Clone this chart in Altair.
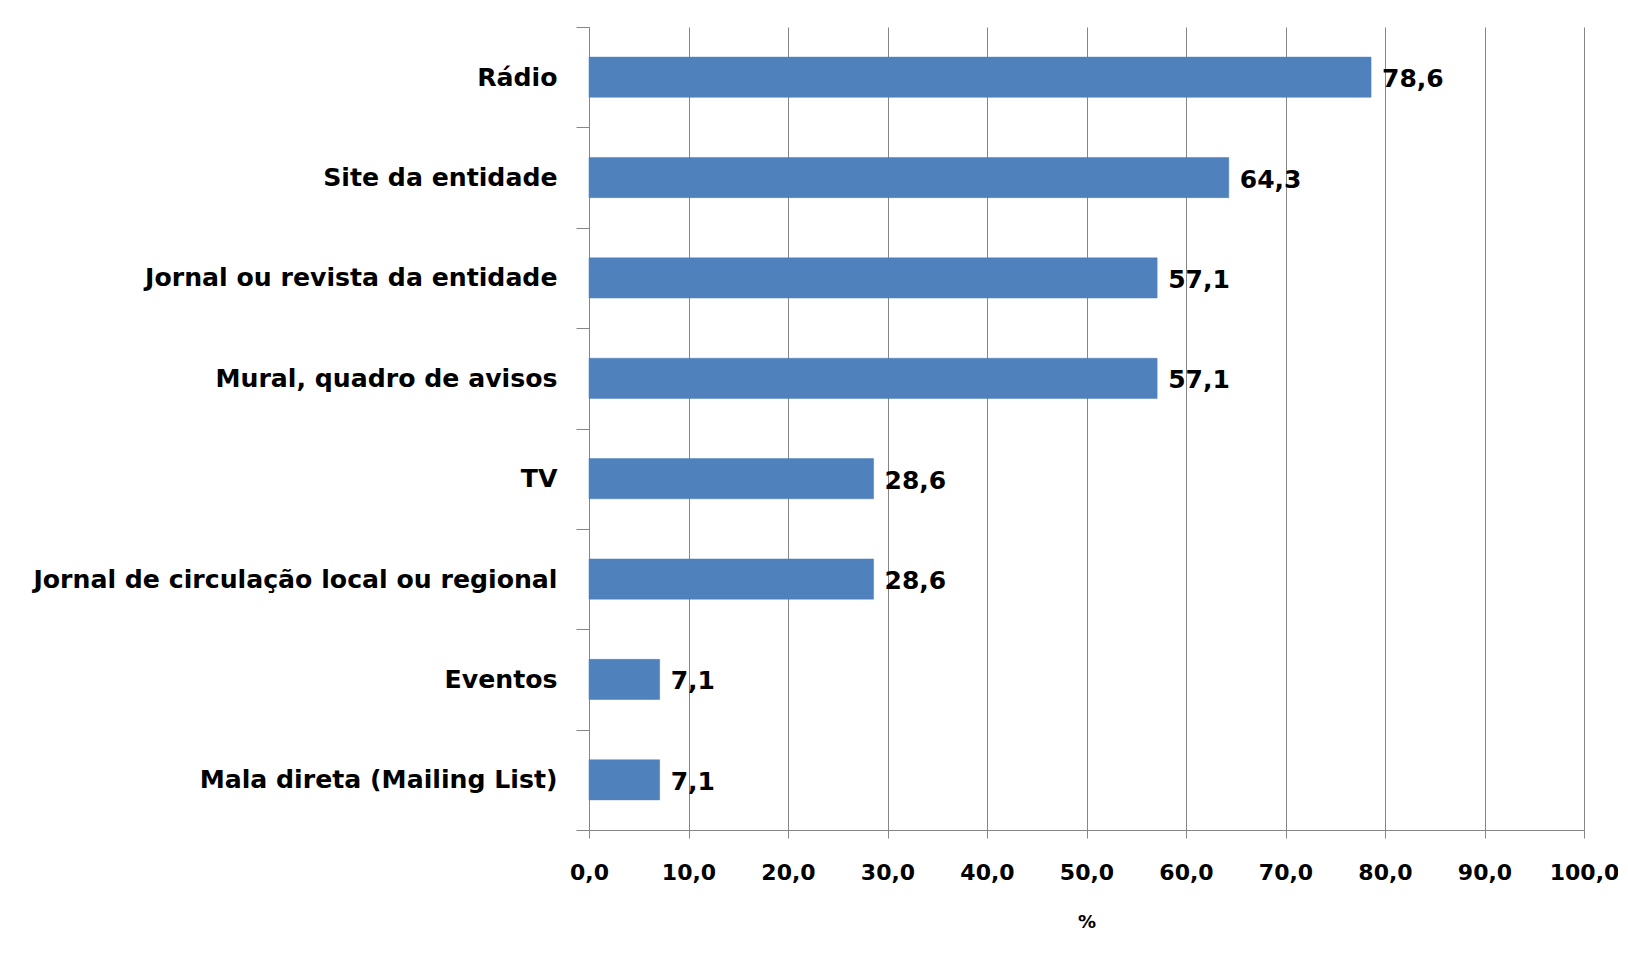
import altair as alt
import pandas as pd

categories = [
    "Rádio",
    "Site da entidade",
    "Jornal ou revista da entidade",
    "Mural, quadro de avisos",
    "TV",
    "Jornal de circulação local ou regional",
    "Eventos",
    "Mala direta (Mailing List)",
]
values = [78.6, 64.3, 57.1, 57.1, 28.6, 28.6, 7.1, 7.1]
x_ticks = [0, 10, 20, 30, 40, 50, 60, 70, 80, 90, 100]

df = pd.DataFrame({"cat": categories, "val": values})

FONT = "DejaVu Sans"

y_enc = alt.Y(
    "cat:N",
    sort=categories,
    title=None,
    scale=alt.Scale(paddingInner=0, paddingOuter=0),
    axis=alt.Axis(
        labelFont=FONT,
        labelFontSize=25.2,
        labelFontWeight="bold",
        labelColor="#000000",
        labelPadding=19,
        labelLimit=1000,
        tickBand="extent",
        tickSize=13,
        tickColor="#868686",
        domainColor="#868686",
        grid=False,
    ),
)

x_enc = alt.X(
    "val:Q",
    title="%",
    scale=alt.Scale(domain=[0, 100], nice=False),
    axis=alt.Axis(
        values=x_ticks,
        labelExpr="replace(format(datum.value, '.1f'), '.', ',')",
        labelFont=FONT,
        labelFontSize=22,
        labelFontWeight="bold",
        labelColor="#000000",
        labelPadding=24,
        labelFlush=False,
        labelOverlap=False,
        tickSize=8,
        tickColor="#868686",
        domainColor="#868686",
        grid=True,
        gridColor="#868686",
        gridWidth=1,
        titleFont=FONT,
        titleFontSize=18,
        titleFontWeight="bold",
        titleColor="#000000",
        titlePadding=30,
    ),
)

bars = alt.Chart(df).mark_bar(
    color="#4F81BD", stroke="#4A7EBB", strokeWidth=0.5, height={"band": 0.4}
).encode(x=x_enc, y=y_enc)

labels = (
    alt.Chart(df)
    .transform_calculate(lbl="replace(format(datum.val, '.1f'), '.', ',')")
    .mark_text(
        align="left",
        baseline="middle",
        dx=11,
        dy=2,
        font=FONT,
        fontSize=25,
        fontWeight="bold",
        color="#000000",
    )
    .encode(x=alt.X("val:Q"), y=alt.Y("cat:N", sort=categories), text="lbl:N")
)

chart = (
    alt.layer(bars, labels)
    .properties(
        width=995,
        height=803,
        autosize=alt.AutoSizeParams(type="none"),
        padding={"left": 581, "top": 19, "right": 34, "bottom": 110},
        background="#FFFFFF",
    )
    .configure_view(stroke=None)
)

chart.save("out.html", embed_options={"renderer": "svg", "actions": False})
